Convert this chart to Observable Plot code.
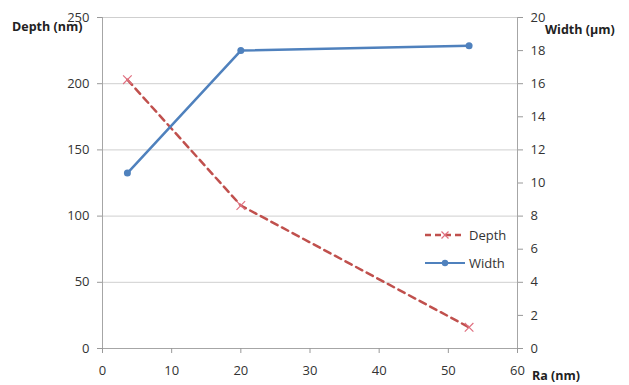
<!DOCTYPE html>
<html>
<head>
<meta charset="utf-8">
<script src="https://cdn.jsdelivr.net/npm/d3@7"></script>
<script src="https://cdn.jsdelivr.net/npm/@observablehq/plot@0.6"></script>
<style>
  html, body { margin: 0; padding: 0; background: #fff; }
  #wrap { position: relative; width: 629px; height: 385px; overflow: hidden; font-family: "Open Sans", sans-serif; }
  .ttl { position: absolute; font-weight: bold; font-size: 12.5px; color: #222; white-space: nowrap; line-height: 1; }
  #legend { position: absolute; left: 424px; top: 225px; font-size: 13px; color: #333; }
  #legend .row { display: flex; align-items: center; height: 20px; margin-bottom: 8px; }
  #legend svg { margin-right: 3px; }
</style>
</head>
<body>
<div id="wrap">
  <div id="chart"></div>
  <div class="ttl" style="left:12px; top:21px;">Depth (nm)</div>
  <div class="ttl" style="left:545px; top:24px;">Width (µm)</div>
  <div class="ttl" style="left:532px; top:370px;">Ra (nm)</div>
  <div id="legend"></div>
</div>
<script>
const ra = [3.6, 20, 53];
const depth = [203, 108, 16];
const widthUm = [10.6, 18.0, 18.3];
const xTicks = [0, 10, 20, 30, 40, 50, 60];
const leftTicks = [0, 50, 100, 150, 200, 250];
const rightTicks = [0, 2, 4, 6, 8, 10, 12, 14, 16, 18, 20];
const seriesNames = ["Depth", "Width"];

const depthColor = "#C0504D";
const widthColor = "#4F81BD";
const k = 250 / 20; // right axis (µm) mapped onto left axis (nm) scale

const depthData = ra.map((x, i) => ({x, y: depth[i]}));
const widthData = ra.map((x, i) => ({x, y: widthUm[i] * k}));

const axisStyle = {stroke: "#999", fill: "#333", fontSize: 13, tickSize: 5};

const chart = Plot.plot({
  width: 629,
  height: 385,
  marginLeft: 102,
  marginRight: 112,
  marginTop: 17,
  marginBottom: 37,
  style: {fontFamily: "Open Sans, sans-serif", background: "white"},
  x: {domain: [0, 60]},
  y: {domain: [0, 250]},
  marks: [
    Plot.gridY(leftTicks.filter(d => d > 0), {stroke: "#cfcfcf", strokeOpacity: 1, strokeWidth: 1}),
    Plot.ruleX([0, 60], {stroke: "#a6a6a6"}),
    Plot.ruleY([0], {stroke: "#a6a6a6"}),
    Plot.axisY(leftTicks, {...axisStyle, anchor: "left", tickPadding: 8, label: null}),
    Plot.axisY(rightTicks.map(d => d * k), {...axisStyle, anchor: "right", tickPadding: 8, label: null,
      tickFormat: d => String(Math.round(d / k))}),
    Plot.axisX(xTicks, {...axisStyle, anchor: "bottom", tickPadding: 12, label: null}),
    Plot.line(depthData, {x: "x", y: "y", stroke: depthColor, strokeWidth: 2.5, strokeDasharray: "7,5"}),
    Plot.dot(depthData, {x: "x", y: "y", symbol: "times", r: 4, stroke: "#e07080", strokeWidth: 1.2}),
    Plot.line(widthData, {x: "x", y: "y", stroke: widthColor, strokeWidth: 2.5}),
    Plot.dot(widthData, {x: "x", y: "y", r: 3.5, fill: widthColor, stroke: "none"})
  ]
});
document.getElementById("chart").appendChild(chart);

// legend
const legend = document.getElementById("legend");
const samples = [
  `<svg width="42" height="12"><line x1="1" y1="6" x2="41" y2="6" stroke="${depthColor}" stroke-width="2.5" stroke-dasharray="6,4"/><path d="M17.5,2.5L24.5,9.5M24.5,2.5L17.5,9.5" stroke="#e07080" stroke-width="1.2"/></svg>`,
  `<svg width="42" height="12"><line x1="1" y1="6" x2="41" y2="6" stroke="${widthColor}" stroke-width="2"/><circle cx="21" cy="6" r="3.2" fill="${widthColor}"/></svg>`
];
seriesNames.forEach((name, i) => {
  const row = document.createElement("div");
  row.className = "row";
  row.innerHTML = samples[i] + `<span>${name}</span>`;
  legend.appendChild(row);
});
</script>
</body>
</html>
